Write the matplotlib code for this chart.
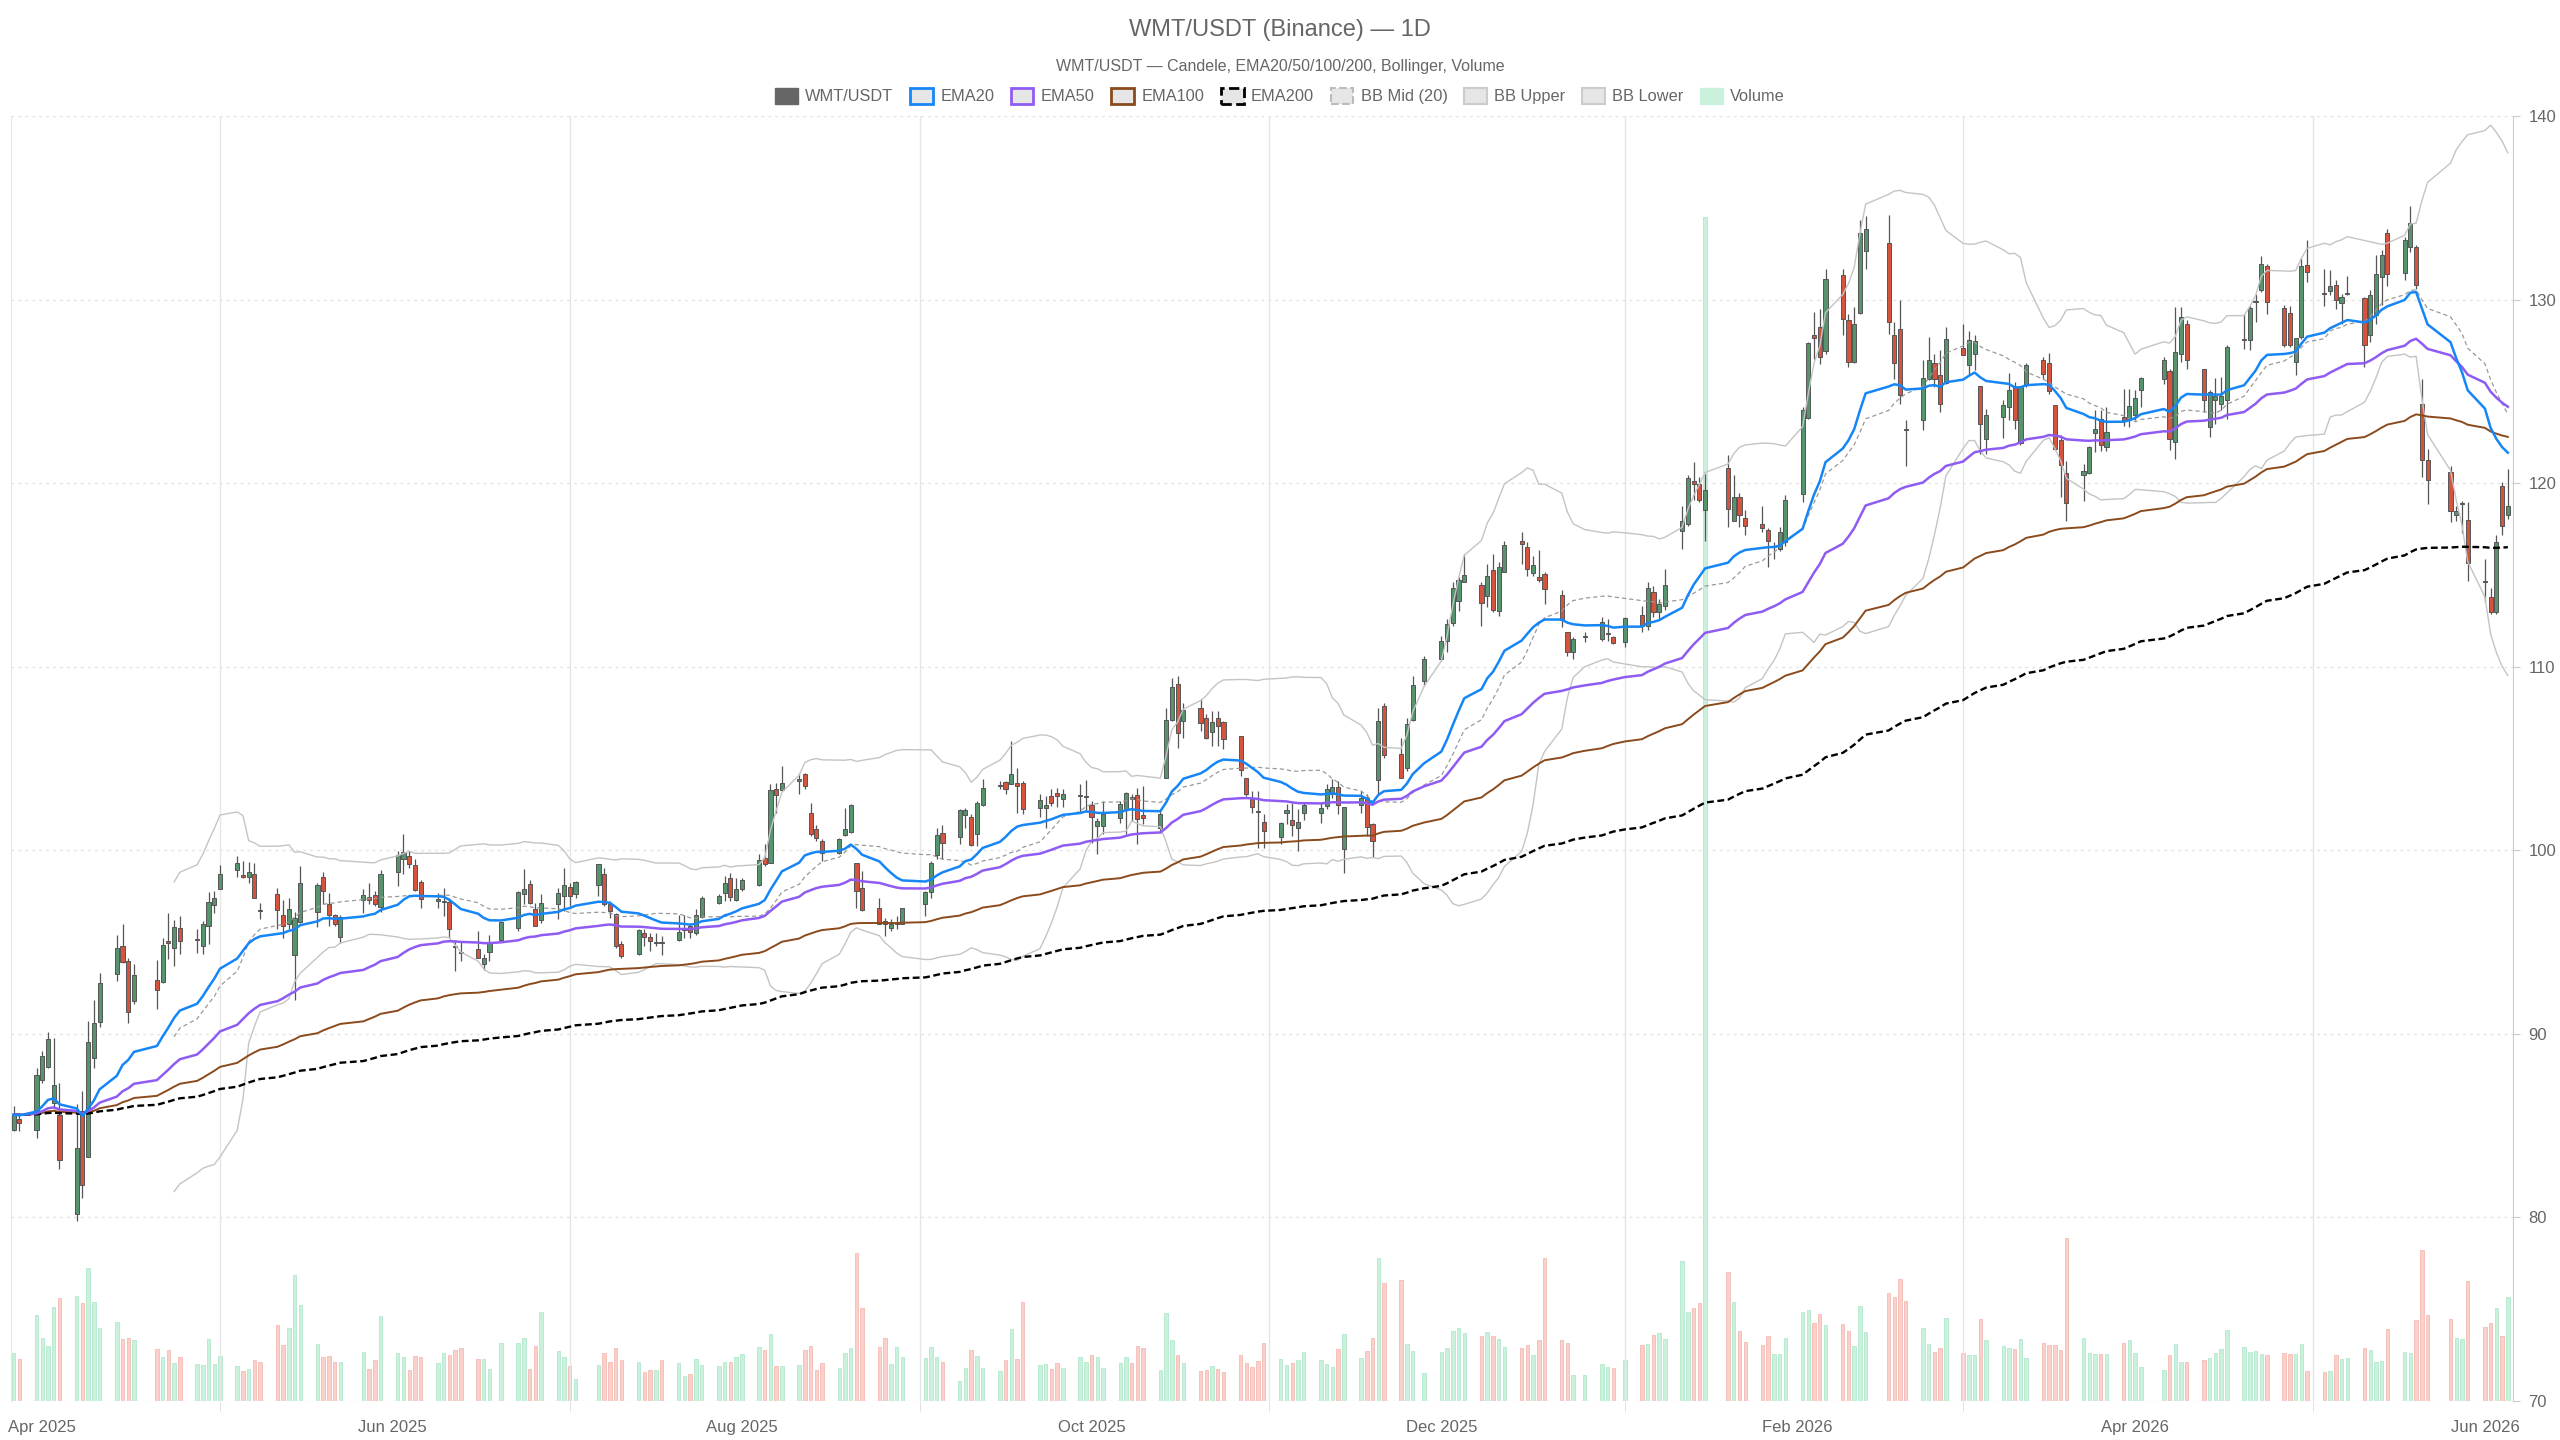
#!/usr/bin/env python

# WMT/USDT daily candles with EMAs, Bollinger bands and volume.

import numpy as np
import pandas as pd
import matplotlib
matplotlib.use('Agg')
import matplotlib.pyplot as plt
import matplotlib.dates as mdates
from matplotlib.patches import Patch

plt.rcParams['font.family'] = ['Liberation Sans', 'DejaVu Sans']

# Trading days (US calendar)
holidays = ['2025-04-18', '2025-05-26', '2025-06-19', '2025-07-04', '2025-09-01',
            '2025-11-27', '2025-12-25', '2026-01-01', '2026-01-19', '2026-02-16',
            '2026-04-03', '2026-05-25']
dates = pd.bdate_range('2025-03-27', '2026-06-05', freq='C', holidays=holidays)

opens = [
    # Mar 2025
    84.75, 85.38, 84.75,
    # Apr
    87.50, 88.20, 86.24, 85.60, 80.20, 85.78, 83.27, 88.67, 90.65, 93.24, 94.80, 93.96, 91.78,
    92.96, 92.84, 95.05, 94.67, 95.78, 95.10, 94.80, 95.90,
    # May
    97.00, 97.90, 98.93, 98.67, 98.53, 98.73, 96.75, 97.64, 96.45, 95.96, 94.27, 96.10, 96.65,
    98.55, 97.10, 96.45, 95.30, 97.27, 97.47, 97.58, 96.93,
    # Jun
    98.82, 99.50, 99.69, 99.20, 98.27, 97.25, 97.20, 97.18, 94.78, 94.45, 94.63, 93.80, 94.45,
    95.10, 95.78, 97.63, 98.18, 96.78, 96.20, 97.09,
    # Jul
    97.49, 98.00, 97.60, 98.10, 98.72, 97.05, 96.54, 94.90, 94.36, 95.50, 95.29, 94.94, 95.00,
    95.10, 95.68, 95.90, 95.47, 96.38, 97.14, 97.69, 98.50, 97.30,
    # Aug
    97.87, 98.09, 99.56, 99.32, 103.36, 103.27, 103.80, 104.14, 102.05, 101.14, 100.50, 99.87,
    100.83, 101.00, 99.32, 97.96, 96.87, 96.17, 95.78, 95.96, 95.96,
    # Sep
    97.08, 97.74, 99.77, 100.96, 100.74, 101.92, 101.83, 100.87, 102.45, 103.50, 103.72, 103.63,
    103.68, 103.68, 102.32, 102.32, 102.94, 103.10, 102.77, 102.93, 102.88,
    # Oct
    102.47, 101.32, 101.32, 101.77, 102.23, 102.90, 103.01, 101.92, 101.23, 103.96, 107.10,
    109.08, 107.04, 107.77, 107.23, 106.46, 107.23, 106.99, 106.23, 103.96, 102.81, 102.14, 101.56,
    # Nov
    100.72, 102.02, 101.63, 101.23, 102.02, 102.02, 102.41, 103.05, 103.45, 100.08, 102.47,
    102.83, 101.45, 103.81, 107.87, 105.23, 104.50, 107.10, 109.23,
    # Dec
    110.41, 111.41, 112.38, 113.60, 114.63, 114.47, 113.87, 115.27, 113.05, 115.18, 116.87,
    116.50, 115.09, 114.90, 115.05, 113.90, 111.90, 110.78, 111.60, 111.50, 111.78, 111.63,
    # Jan 2026
    111.32, 112.80, 112.20, 114.06, 113.00, 113.30, 117.42, 117.78, 120.09, 119.93, 118.56,
    120.84, 117.96, 119.24, 118.11, 117.75, 117.46, 116.50, 116.42, 116.78,
    # Feb
    119.42, 123.56, 128.06, 128.51, 127.20, 131.36, 128.87, 126.60, 129.29, 132.64, 133.06,
    128.06, 128.42, 122.95, 123.42, 125.69, 126.55, 125.87, 125.47,
    # Mar
    127.38, 126.42, 127.05, 125.29, 122.42, 123.60, 124.15, 125.24, 122.18, 125.33, 126.69,
    126.55, 124.24, 122.33, 120.55, 120.42, 120.55, 122.73, 123.51, 121.96, 123.60, 123.42,
    # Apr
    123.70, 125.06, 125.69, 126.11, 122.24, 127.05, 128.66, 126.20, 123.06, 124.51, 124.30,
    124.51, 127.80, 127.78, 129.85, 130.51, 131.84, 129.55, 129.27, 126.60, 127.96,
    # May
    131.87, 130.35, 130.47, 130.78, 129.82, 130.28, 130.11, 128.06, 129.15, 131.24, 133.60,
    131.46, 132.87, 132.84, 124.33, 121.27, 120.60, 118.24, 118.85, 118.00,
    # Jun
    114.65, 113.78, 112.96, 119.82, 118.29,
]

highs = [
    86.05, 85.70, 88.15,
    89.05, 90.10, 89.80, 87.30, 86.20, 86.90, 90.70, 91.87, 93.30, 95.40, 95.96, 94.15, 93.78,
    94.00, 95.24, 96.56, 96.20, 96.40, 95.70, 96.15, 97.75,
    97.80, 99.20, 99.70, 99.40, 99.36, 99.30, 97.14, 97.93, 97.27, 97.40, 96.65, 99.15, 98.24,
    98.82, 97.70, 96.55, 96.50, 97.87, 98.20, 97.78, 98.90,
    99.96, 100.87, 99.96, 99.50, 98.40, 97.70, 97.96, 97.40, 95.14, 95.00, 95.60, 94.33, 95.36,
    96.10, 97.78, 98.96, 98.40, 97.14, 97.60, 97.96,
    99.05, 98.23, 98.32, 99.23, 99.05, 97.23, 96.60, 95.05, 95.69, 95.69, 95.50, 95.50, 95.32,
    96.50, 96.50, 96.05, 96.78, 97.50, 97.60, 98.60, 98.78, 98.50,
    98.50, 99.78, 100.32, 103.60, 103.69, 104.60, 104.23, 104.23, 102.60, 101.40, 100.60, 100.69,
    102.30, 102.54, 99.32, 98.87, 97.40, 96.32, 96.23, 96.41, 96.87,
    97.78, 99.41, 101.23, 101.36, 102.23, 102.32, 101.96, 102.69, 103.87, 103.78, 103.78, 105.96,
    104.50, 103.78, 103.08, 102.96, 103.32, 103.37, 103.36, 103.60, 103.83,
    102.69, 101.77, 102.69, 102.69, 103.17, 103.05, 103.41, 103.50, 102.14, 107.77, 109.41,
    109.50, 108.05, 108.23, 107.41, 107.59, 107.59, 107.05, 106.23, 103.96, 103.23, 103.23, 101.96,
    101.56, 102.50, 102.60, 102.23, 102.60, 102.60, 103.60, 103.87, 103.78, 102.36, 103.23,
    103.05, 101.50, 107.77, 108.05, 106.14, 107.23, 109.50, 110.60,
    111.68, 112.60, 114.60, 114.87, 116.14, 114.60, 115.60, 116.14, 115.69, 116.87, 117.32,
    116.78, 116.05, 116.36, 115.14, 114.18, 111.90, 111.60, 111.87, 112.69, 112.60, 111.68,
    112.69, 113.30, 114.60, 114.40, 113.70, 115.30, 118.73, 120.42, 121.15, 120.33, 120.51,
    121.51, 120.42, 119.46, 118.51, 118.78, 117.56, 116.78, 117.60, 119.33,
    124.15, 127.69, 129.33, 129.51, 131.64, 131.69, 129.24, 129.60, 134.36, 134.55, 134.60,
    128.78, 130.00, 123.42, 126.69, 127.96, 127.06, 127.24, 128.51,
    128.66, 128.29, 128.09, 125.29, 124.06, 124.51, 126.00, 125.51, 125.29, 126.55, 126.87,
    127.09, 124.24, 122.60, 121.20, 121.02, 122.00, 124.00, 124.00, 124.15, 125.15, 125.15,
    125.10, 125.78, 126.87, 126.24, 129.60, 129.60, 128.87, 126.24, 125.06, 125.75, 125.78,
    127.51, 129.24, 129.64, 130.33, 132.36, 131.93, 129.73, 129.64, 127.93, 132.29,
    133.27, 131.64, 131.60, 131.06, 130.33, 131.27, 130.15, 130.51, 132.42, 132.69, 133.87,
    133.42, 135.09, 132.96, 125.69, 121.87, 120.91, 118.78, 119.02, 118.97,
    115.87, 114.29, 117.20, 120.06, 120.78,
]

lows = [
    84.70, 84.70, 84.30,
    87.30, 88.15, 85.90, 82.64, 79.80, 81.05, 83.27, 88.15, 90.40, 92.87, 93.87, 90.60, 91.60,
    91.33, 92.78, 94.10, 93.70, 94.36, 94.40, 94.33, 94.87,
    96.60, 97.87, 98.56, 98.50, 98.24, 97.38, 96.27, 95.70, 95.24, 95.70, 91.87, 96.05, 95.80,
    97.05, 95.90, 95.90, 94.96, 96.60, 97.05, 96.96, 96.65,
    98.05, 98.70, 99.05, 97.80, 96.87, 96.87, 96.40, 95.23, 93.40, 93.96, 94.14, 93.50, 93.96,
    95.10, 95.60, 97.05, 97.05, 95.87, 96.05, 96.23,
    96.69, 96.96, 97.41, 97.50, 96.96, 96.33, 94.69, 94.14, 94.32, 94.78, 94.50, 94.78, 94.32,
    95.05, 95.23, 95.23, 95.41, 96.32, 97.05, 97.23, 97.23, 97.23,
    97.78, 98.05, 99.14, 99.32, 102.05, 103.23, 103.05, 103.32, 100.78, 100.50, 99.42, 99.78,
    100.78, 100.96, 96.87, 96.69, 95.96, 95.32, 95.60, 95.69, 95.96,
    96.41, 97.41, 99.50, 99.50, 100.32, 101.23, 100.23, 100.23, 102.41, 103.32, 103.05, 103.60,
    102.05, 101.99, 101.81, 101.23, 102.41, 102.35, 102.35, 102.05, 102.14,
    100.41, 99.78, 100.87, 101.50, 100.87, 101.59, 100.32, 101.41, 100.96, 103.96, 107.05,
    105.56, 106.14, 106.50, 106.05, 105.69, 105.69, 105.50, 104.05, 102.96, 102.05, 100.14, 100.14,
    100.32, 101.41, 100.78, 99.96, 101.63, 101.50, 102.23, 102.87, 101.96, 98.78, 102.05,
    100.78, 99.63, 103.05, 105.05, 103.96, 104.32, 107.05, 108.96,
    110.32, 110.78, 112.23, 113.05, 114.60, 112.23, 113.27, 112.96, 112.78, 115.14, 115.60,
    114.96, 114.96, 114.60, 113.41, 112.14, 110.60, 110.41, 111.32, 111.41, 111.41, 111.23,
    111.05, 111.90, 112.00, 112.70, 112.60, 113.10, 116.42, 117.69, 119.06, 118.96, 116.84,
    117.60, 117.93, 117.60, 117.15, 117.33, 115.42, 115.87, 116.33, 116.60,
    118.96, 123.51, 126.78, 126.51, 127.02, 128.06, 126.33, 126.55, 129.24, 131.69, 128.11,
    125.69, 124.33, 120.96, 122.87, 125.60, 125.24, 123.87, 125.38,
    126.96, 125.87, 126.15, 121.60, 121.60, 122.47, 123.42, 122.96, 122.10, 125.24, 125.69,
    124.87, 121.78, 119.24, 117.96, 119.02, 120.50, 121.69, 121.75, 121.75, 123.10, 123.06,
    123.42, 124.15, 125.42, 121.82, 121.33, 126.60, 126.24, 123.87, 122.51, 123.24, 123.96,
    123.51, 127.33, 127.27, 128.78, 130.42, 129.24, 127.42, 127.42, 125.87, 127.87,
    130.96, 129.64, 130.24, 129.46, 128.69, 130.24, 126.33, 127.69, 128.69, 129.69, 130.73,
    131.06, 132.60, 130.60, 120.33, 118.87, 117.87, 117.96, 117.27, 114.69,
    113.51, 112.87, 112.87, 117.20, 118.06,
]

closes = [
    85.60, 85.15, 87.75,
    88.78, 89.73, 87.22, 83.15, 83.78, 81.75, 89.56, 90.60, 92.78, 94.70, 93.93, 91.18, 93.20,
    92.38, 94.84, 94.95, 95.84, 95.05, 95.16, 96.00, 97.20,
    97.40, 98.73, 99.33, 98.56, 98.82, 97.38, 96.68, 96.73, 95.87, 96.80, 96.33, 98.20, 98.10,
    97.78, 96.45, 95.96, 96.36, 97.55, 97.27, 97.10, 98.69,
    99.76, 99.90, 99.27, 97.83, 97.36, 97.33, 97.25, 95.69, 94.72, 94.38, 94.14, 94.14, 94.95,
    96.09, 97.74, 97.89, 97.11, 95.87, 97.14, 97.67,
    98.10, 97.49, 98.25, 99.23, 97.05, 96.69, 94.78, 94.23, 95.65, 95.29, 95.05, 94.98, 94.96,
    95.56, 95.72, 95.56, 96.50, 97.38, 97.50, 98.23, 97.45, 97.87,
    98.36, 99.47, 99.23, 103.27, 103.00, 103.65, 103.82, 103.50, 100.87, 100.69, 99.87, 100.60,
    101.14, 102.47, 97.80, 96.72, 95.96, 95.96, 96.00, 96.05, 96.87,
    97.74, 99.32, 100.83, 100.41, 102.19, 102.17, 100.28, 102.56, 103.37, 103.56, 103.32, 104.14,
    103.50, 102.23, 102.72, 102.47, 102.60, 102.96, 103.05, 102.98, 102.92,
    101.83, 101.59, 101.96, 102.54, 103.12, 102.81, 101.68, 101.74, 101.99, 107.10, 108.90,
    106.37, 107.63, 106.96, 106.10, 107.00, 106.77, 106.05, 104.36, 103.05, 102.36, 102.10, 101.05,
    101.50, 102.18, 101.36, 101.56, 102.47, 102.29, 103.32, 103.45, 102.47, 102.36, 102.83,
    101.29, 100.50, 107.05, 105.20, 103.96, 106.90, 108.99, 110.41,
    111.41, 112.32, 114.29, 114.74, 115.00, 113.45, 114.96, 113.09, 115.41, 116.63, 116.69,
    115.32, 115.56, 114.72, 114.23, 112.54, 110.78, 111.50, 111.65, 112.41, 111.82, 111.27,
    112.65, 112.20, 114.30, 113.00, 113.40, 114.45, 117.93, 120.29, 119.96, 119.09, 119.64,
    118.60, 119.27, 118.24, 117.66, 117.56, 116.87, 116.60, 117.33, 119.06,
    124.00, 127.64, 127.93, 126.87, 131.11, 128.93, 126.60, 128.69, 133.60, 133.82, 128.78,
    126.55, 124.78, 122.90, 125.75, 126.69, 125.69, 124.33, 127.87,
    127.00, 127.82, 127.73, 123.24, 123.73, 124.27, 125.05, 123.42, 125.24, 126.46, 125.93,
    125.02, 121.87, 121.00, 118.91, 120.64, 121.96, 122.96, 122.10, 122.78, 123.42, 124.18,
    124.66, 125.75, 126.73, 122.42, 127.15, 129.06, 126.73, 124.51, 124.97, 124.73, 124.73,
    127.42, 127.85, 129.55, 129.89, 131.96, 129.87, 127.51, 127.51, 127.93, 131.82,
    131.51, 130.29, 130.73, 130.00, 130.15, 130.30, 127.51, 130.27, 131.38, 132.42, 131.38,
    133.27, 134.15, 130.78, 121.24, 120.18, 118.47, 118.47, 118.90, 115.64,
    114.60, 112.96, 116.78, 117.69, 118.78,
]

# Volume (thousands)
volumes = [
    143, 125, 257,
    188, 165, 282, 308, 315, 293, 398, 297, 218, 236, 187, 189, 182,
    157, 132, 154, 114, 131, 110, 108, 185,
    111, 136, 105, 90, 95, 123, 116, 229, 168, 219, 377, 288, 170,
    133, 134, 116, 116, 146, 95, 122, 256,
    144, 133, 94, 134, 133, 115, 145, 139, 152, 159, 127, 127, 95,
    175, 173, 190, 95, 165, 268, 151,
    133, 106, 65, 109, 143, 116, 160, 124, 116, 87, 94, 94, 124,
    113, 76, 82, 127, 109, 104, 118, 116, 133,
    142, 162, 152, 201, 105, 104, 109, 152, 164, 92, 115, 99,
    143, 159, 443, 278, 162, 190, 110, 163, 133,
    130, 162, 133, 116, 60, 100, 153, 135, 98, 91, 123, 217,
    126, 297, 109, 111, 95, 113, 100, 132, 117,
    137, 133, 100, 113, 132, 115, 166, 158, 92, 263, 183,
    139, 115, 89, 92, 104, 96, 87, 139, 113, 102, 119, 173,
    125, 107, 113, 123, 147, 122, 112, 102, 155, 200, 130,
    150, 188, 430, 354, 363, 172, 151, 83,
    146, 159, 209, 220, 204, 194, 207, 194, 185, 162, 159,
    167, 137, 183, 428, 183, 173, 77, 77, 110, 103, 98,
    122, 167, 170, 199, 205, 187, 420, 267, 280, 295, 3552,
    387, 297, 210, 177, 167, 196, 140, 140, 189,
    267, 273, 235, 260, 227, 232, 210, 164, 285, 206, 325,
    312, 367, 300, 219, 172, 147, 159, 249,
    145, 139, 139, 245, 183, 165, 160, 155, 186, 129, 175,
    169, 167, 152, 490, 189, 145, 140, 140, 140, 174, 182,
    145, 101, 92, 137, 172, 117, 118, 123, 130, 143, 155,
    212, 162, 147, 150, 140, 137, 145, 140, 140, 170,
    89, 88, 90, 139, 127, 129, 159, 153, 116, 120, 216,
    146, 143, 243, 453, 259, 245, 188, 185, 361,
    223, 233, 280, 195, 313,
]

assert len(dates) == len(opens) == len(highs) == len(lows) == len(closes) == len(volumes)

df = pd.DataFrame({'open': opens, 'high': highs, 'low': lows, 'close': closes,
                   'volume': volumes}, index=dates)

# Indicators
close = df['close']
ema20 = close.ewm(span=20, adjust=False).mean()
ema50 = close.ewm(span=50, adjust=False).mean()
ema100 = close.ewm(span=100, adjust=False).mean()
ema200 = close.ewm(span=200, adjust=False).mean()
bb_mid = close.rolling(20).mean()
bb_sd = close.rolling(20).std(ddof=0)
bb_up = bb_mid + 2 * bb_sd
bb_lo = bb_mid - 2 * bb_sd

GREEN = '#56946e'
RED = '#d4543e'
VOL_G = '#c9f1dc'
VOL_R = '#fbd0cb'
C_EMA20 = '#1686f7'
C_EMA50 = '#8f5bf3'
C_EMA100 = '#8b4a1c'
TXT = '#666666'

fig = plt.figure(figsize=(25.6, 14.4), dpi=100, facecolor='white')
rect = [11 / 2560, 39 / 1440, 2502 / 2560, 1285 / 1440]

x = mdates.date2num(df.index.to_pydatetime())
xlim = (x[0] - 0.45, x[0] + 435.9)
up = df['close'].values >= df['open'].values

# Volume underneath, on its own hidden scale
axv = fig.add_axes(rect)
axv.bar(x, df['volume'], width=0.6, color=np.where(up, VOL_G, VOL_R),
        edgecolor=np.where(up, '#b3e8cc', '#f3bab4'), linewidth=0.6, zorder=1)
axv.set_ylim(0, df['volume'].max() / 0.9215)
axv.set_xlim(*xlim)
axv.axis('off')

# Price axes on top
ax = fig.add_axes(rect)
ax.patch.set_alpha(0)

o = df['open'].values
c = df['close'].values
ax.vlines(x, df['low'], df['high'], color='#555555', linewidth=0.9, zorder=3)
ax.bar(x, np.maximum(np.abs(c - o), 0.06), bottom=np.minimum(o, c), width=0.72,
       color=np.where(up, GREEN, RED), edgecolor='#555555', linewidth=0.7, zorder=4)

ax.plot(x, bb_up, color='#c4c4c4', linewidth=1.0, zorder=5)
ax.plot(x, bb_lo, color='#c4c4c4', linewidth=1.0, zorder=5)
ax.plot(x, bb_mid, color='#999999', linewidth=0.9, linestyle=(0, (3.4, 2.4)), zorder=5)
ax.plot(x, ema100, color=C_EMA100, linewidth=1.4, zorder=6)
ax.plot(x, ema200, color='black', linewidth=1.7, linestyle=(0, (2.9, 1.5)), zorder=6)
ax.plot(x, ema50, color=C_EMA50, linewidth=1.8, zorder=7)
ax.plot(x, ema20, color=C_EMA20, linewidth=1.8, zorder=8)

# Axes styling
ax.set_xlim(*xlim)
ax.set_ylim(70, 140)
ax.set_yticks(np.arange(70, 141, 10))
ax.yaxis.tick_right()
ax.tick_params(axis='y', colors=TXT, labelsize=12, length=5, pad=6, color='#cccccc')
ax.grid(axis='y', color='#e3e3e3', linewidth=1.0, linestyle=(0, (2, 3)))

ax.xaxis.set_major_locator(mdates.MonthLocator(bymonth=[2, 4, 6, 8, 10, 12]))
ax.xaxis.set_major_formatter(mdates.DateFormatter('%b %Y'))
grid_days = pd.to_datetime(['2025-05-02', '2025-07-02', '2025-09-01', '2025-11-01',
                            '2026-01-02', '2026-03-02', '2026-05-02'])
ax.set_xticks(mdates.date2num(grid_days.to_pydatetime()), minor=True)
ax.tick_params(axis='x', which='major', length=0, pad=14, labelsize=12, labelcolor=TXT)
ax.tick_params(axis='x', which='minor', length=7, color='#dddddd')
ax.grid(axis='x', which='minor', color='#e6e6e6', linewidth=1.0)
ax.grid(axis='x', which='major', visible=False)

for s in ['top', 'bottom']:
    ax.spines[s].set_visible(False)
ax.spines['left'].set_color('#e6e6e6')
ax.spines['right'].set_color('#cccccc')

# Titles
fig.text(0.5, 1 - 30 / 1440, 'WMT/USDT (Binance) — 1D', ha='center', va='center',
         fontsize=17, color=TXT)
fig.text(0.5, 1 - 66 / 1440, 'WMT/USDT — Candele, EMA20/50/100/200, Bollinger, Volume',
         ha='center', va='center', fontsize=11.5, color=TXT)

# Legend
handles = [
    Patch(facecolor='#666666', edgecolor='#666666', label='WMT/USDT'),
    Patch(facecolor='#e6e6e6', edgecolor=C_EMA20, linewidth=2, label='EMA20'),
    Patch(facecolor='#e6e6e6', edgecolor=C_EMA50, linewidth=2, label='EMA50'),
    Patch(facecolor='#e6e6e6', edgecolor=C_EMA100, linewidth=2, label='EMA100'),
    Patch(facecolor='#e6e6e6', edgecolor='black', linewidth=2, linestyle='--', label='EMA200'),
    Patch(facecolor='#e6e6e6', edgecolor='#bbbbbb', linewidth=1.5, linestyle='--', label='BB Mid (20)'),
    Patch(facecolor='#e6e6e6', edgecolor='#cccccc', linewidth=1.5, label='BB Upper'),
    Patch(facecolor='#e6e6e6', edgecolor='#cccccc', linewidth=1.5, label='BB Lower'),
    Patch(facecolor=VOL_G, edgecolor=VOL_G, label='Volume'),
]
fig.legend(handles=handles, loc='center', bbox_to_anchor=(0.5, 1 - 96 / 1440), ncol=9,
           frameon=False, fontsize=11.8, handlelength=1.4, handleheight=1.1,
           handletextpad=0.45, columnspacing=1.0, labelcolor=TXT)

fig.savefig('out.png', dpi=100, facecolor='white')
